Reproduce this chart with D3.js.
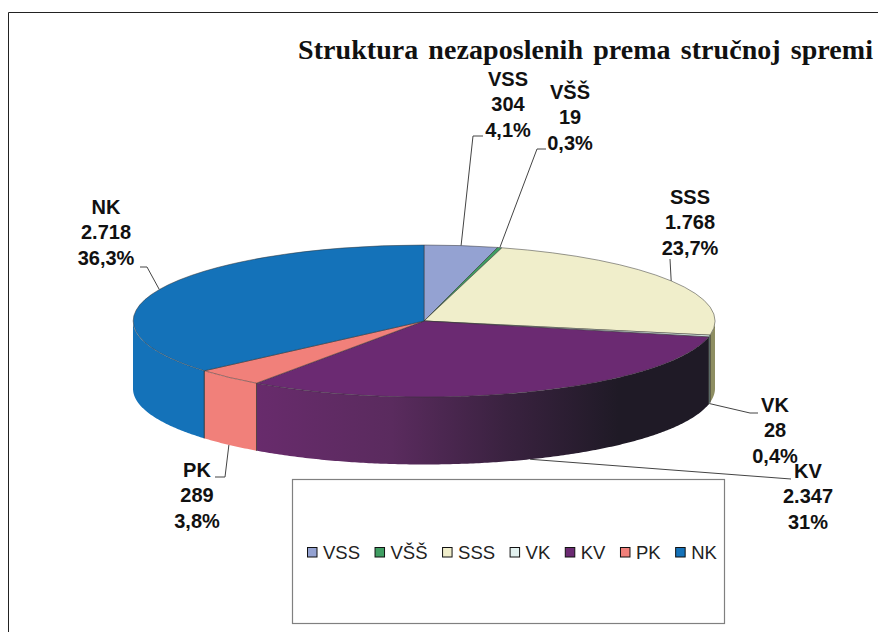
<!DOCTYPE html>
<html><head><meta charset="utf-8">
<script src="https://cdn.jsdelivr.net/npm/d3@7"></script>
<style>html,body{margin:0;padding:0;background:#fff}svg{display:block}</style>
</head><body><svg id="c" width="878" height="632"></svg>
<script>
const categories = ["VSS","VŠŠ","SSS","VK","KV","PK","NK"];
const values = [304,19,1768,28,2347,289,2718];
const valueLabels = ["304","19","1.768","28","2.347","289","2.718"];
const percentLabels = ["4,1%","0,3%","23,7%","0,4%","31%","3,8%","36,3%"];
const topColors = ["#94a2d2","#3f9e62","#f0eecb","#e2f1ef","#6b2a72","#f1807a","#1472b9"];
const sideColors = ["#7f8cb8","#35855a","#8e8e62","#7d9a94","url(#kvGrad)","#f1807a","#1472b9"];
const labelX = [508,570,690,775,808,197,106];
const labelY = [86,99,204,412,478,477,214];
const elbowX = [483,546,null,758,791,215,140];
const elbowY = [136,149,null,413,479,477,267];
const kneeX = [473,537,670,750,null,225,147];
const title = "Struktura nezaposlenih prema stručnoj spremi";

const cx = 424, cy = 321, rx = 291, ry = 76, depth = 67.5;
const svg = d3.select("#c");
const defs = svg.append("defs");
const grad = defs.append("linearGradient").attr("id","kvGrad").attr("gradientUnits","userSpaceOnUse")
  .attr("x1",256).attr("x2",709).attr("y1",0).attr("y2",0);
[[0,"#682b6c"],[0.3,"#5a2b5e"],[0.55,"#3a2240"],[0.8,"#1f1a26"],[1,"#1f1a26"]].forEach(s=>
  grad.append("stop").attr("offset",s[0]).attr("stop-color",s[1]));

// frame
svg.append("path").attr("d","M8.5,632V12.5H878").attr("fill","none").attr("stroke","#222").attr("stroke-width",1);

const px = d3.scaleLinear().domain([-1,1]).range([cx-rx,cx+rx]);
const py = d3.scaleLinear().domain([-1,1]).range([cy-ry,cy+ry]);
const pts = a => [px(Math.sin(a)), py(-Math.cos(a))];

const arcs = d3.pie().sort(null).value(d=>d)(values);
const arcGen = d3.arc().innerRadius(0).outerRadius(1);

// side walls
arcs.forEach((d,i)=>{
  const a0 = Math.max(d.startAngle, Math.PI/2), a1 = Math.min(d.endAngle, 3*Math.PI/2);
  if (a1 <= a0) return;
  const as = d3.range(a0, a1, 0.01).concat([a1]);
  const upper = as.map(pts);
  const lower = upper.map(p=>[p[0],p[1]+depth]).reverse();
  svg.append("path").attr("d", d3.line()(upper.concat(lower))+"Z").attr("fill", sideColors[i]);
  // separators between wall segments
  [a0,a1].forEach(a=>{
    if (a===Math.PI/2 || a===3*Math.PI/2) return;
    const p = pts(a);
    svg.append("line").attr("x1",p[0]).attr("x2",p[0]).attr("y1",p[1]).attr("y2",p[1]+depth)
      .attr("stroke","#333").attr("stroke-width",0.7);
  });
});

// top faces
const topG = svg.append("g").attr("transform",`translate(${cx},${cy}) scale(${rx},${ry})`);
topG.selectAll("path").data(arcs).join("path").attr("d",arcGen)
  .attr("fill",(d,i)=>topColors[i]).attr("stroke","#333").attr("stroke-width",0.5)
  .attr("vector-effect","non-scaling-stroke");

// leader lines
arcs.forEach((d,i)=>{
  const mid = (d.startAngle+d.endAngle)/2;
  const p = pts(mid);
  const front = Math.cos(mid) < 0;
  const start = [p[0], p[1] + (front ? depth : 0)];
  const path = [start];
  if (kneeX[i]!==null) path.push([kneeX[i], elbowY[i]!==null ? elbowY[i] : 259]);
  if (elbowX[i]!==null) path.push([elbowX[i], elbowY[i]]);
  svg.append("path").attr("d",d3.line()(path)).attr("fill","none").attr("stroke","#444").attr("stroke-width",1);
});

// data labels
categories.forEach((c,i)=>{
  const t = svg.append("text").attr("text-anchor","middle")
    .attr("font-family","'Liberation Sans',Arial,sans-serif").attr("font-weight","bold")
    .attr("font-size",20).attr("fill","#111");
  [c,valueLabels[i],percentLabels[i]].forEach((s,k)=>
    t.append("tspan").attr("x",labelX[i]).attr("y",labelY[i]+k*25.3).text(s));
});

// title
svg.append("text").attr("x",298).attr("y",59)
  .attr("font-family","'Liberation Serif','Times New Roman',serif").attr("font-weight","bold")
  .attr("font-size",28).attr("textLength",575).attr("lengthAdjust","spacing").attr("word-spacing",3).attr("fill","#111").text(title);

// legend
svg.append("rect").attr("x",292.5).attr("y",479.5).attr("width",432).attr("height",144)
  .attr("fill","#fff").attr("stroke","#808080").attr("stroke-width",1.2);
let lx = 307;
categories.forEach((c,i)=>{
  svg.append("rect").attr("x",lx+0.5).attr("y",547.5).attr("width",9.5).attr("height",9.5)
    .attr("fill",topColors[i]).attr("stroke","#111").attr("stroke-width",1);
  const t = svg.append("text").attr("x",lx+16).attr("y",558.5)
    .attr("font-family","'Liberation Sans',Arial,sans-serif").attr("font-size",18.5).attr("fill","#222").text(c);
  lx += 16 + t.node().getComputedTextLength() + 14.5;
});
</script></body></html>
